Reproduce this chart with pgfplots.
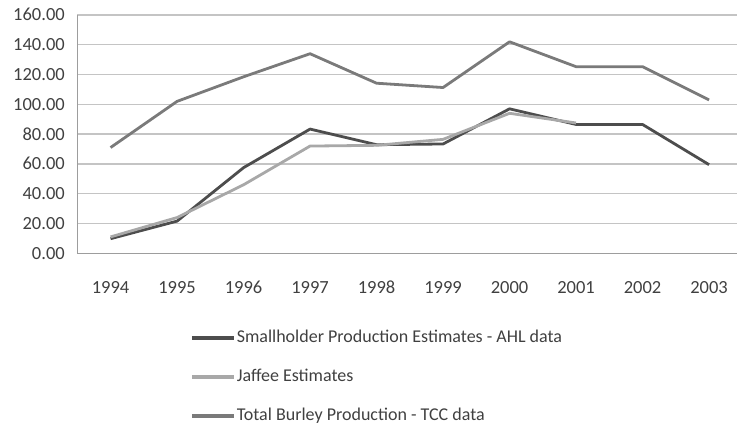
\documentclass[border=0pt]{standalone}
\usepackage{pgfplots}
\pgfplotsset{compat=1.18}
\usepackage{fontspec}
\setmainfont{Carlito}
\definecolor{ahl}{HTML}{4D4D4D}
\definecolor{jaf}{HTML}{A8A8A8}
\definecolor{tcc}{HTML}{7A7A7A}
\definecolor{gridc}{HTML}{C4C4C4}
\definecolor{txt}{HTML}{404040}
\begin{document}
\begin{tikzpicture}
\useasboundingbox (0pt,0pt) rectangle (737pt,425pt);
\begin{axis}[
  at={(77.3pt,171.7pt)}, anchor=south west,
  scale only axis, width=659.7pt, height=238.3pt,
  xmin=1993.5, xmax=2003.42, ymin=0, ymax=160,
  xtick={1994,...,2003}, ytick={0,20,...,160},
  major tick length=0pt,
  axis x line*=bottom, axis y line*=left,
  axis line style={color=gridc!80!black, line width=1.3pt},
  ymajorgrids, grid style={color=gridc, line width=1.3pt},
  /pgf/number format/assume math mode=true,
  x tick label style={/pgf/number format/1000 sep={}, anchor=north, inner sep=0pt, text height=12pt, text depth=0pt, yshift=-28pt},
  y tick label style={/pgf/number format/fixed, /pgf/number format/fixed zerofill, /pgf/number format/precision=2, text height=12pt, text depth=0pt, xshift=-9pt},
  tick label style={font=\fontsize{18.5}{22}\selectfont, color=txt},
  clip=false,
  legend style={at={(0.1708,-0.519)}, anchor=west, draw=none, fill=none,
    inner sep=0pt, row sep=22pt, font=\fontsize{18}{22}\selectfont,
    text=txt,
    nodes={inner xsep=1pt, inner ysep=0pt, text height=13pt, text depth=4pt}},
  legend cell align=left,
  legend image code/.code={\draw[#1, line width=3.6pt] (0pt,0pt) -- (42pt,0pt);},
  every axis plot/.append style={line width=2.8pt, line join=round},
]
\addplot[color=ahl] coordinates {(1994,9.8) (1995,21.6) (1996,57.5) (1997,83.4) (1998,72.9) (1999,73.4) (2000,97) (2001,86.5) (2002,86.5) (2003,59.5)};
\addlegendentry{Smallholder Production Estimates - AHL data}
\addplot[color=jaf] coordinates {(1994,11) (1995,24) (1996,46) (1997,72) (1998,72.5) (1999,76.5) (2000,94) (2001,87.5)};
\addlegendentry{Jaffee Estimates}
\addplot[color=tcc] coordinates {(1994,71) (1995,102) (1996,118.5) (1997,134) (1998,114.2) (1999,111.3) (2000,142) (2001,125.3) (2002,125.3) (2003,103)};
\addlegendentry{Total Burley Production - TCC data}
\end{axis}
\end{tikzpicture}
\end{document}
